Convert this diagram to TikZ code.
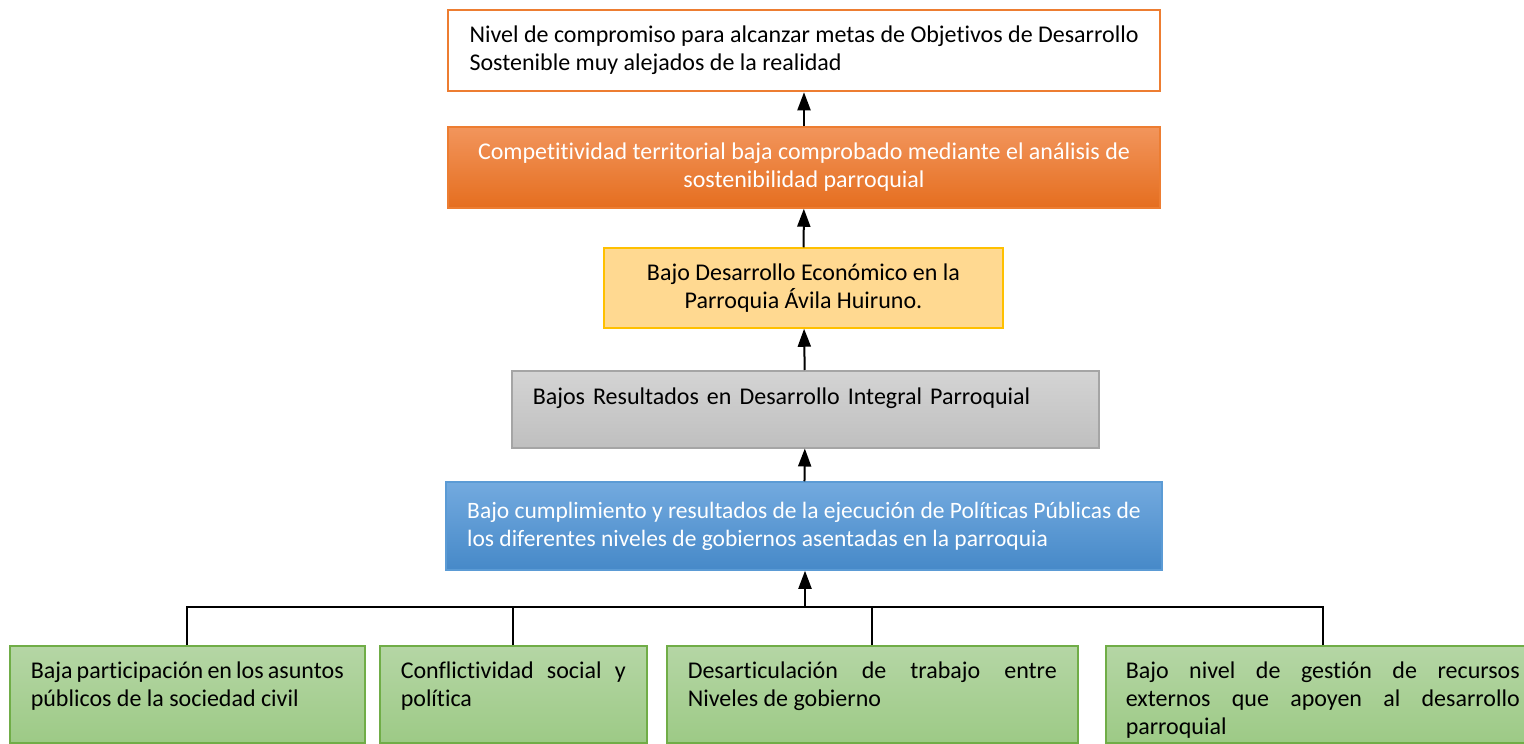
\documentclass[tikz,border=0pt]{standalone}
\usepackage{fontspec}
\setmainfont{Carlito}[Ligatures=NoCommon]
\usetikzlibrary{arrows.meta}
\definecolor{ap-orange}{HTML}{ED7D31}
\definecolor{ap-orangetop}{HTML}{F2955C}
\definecolor{ap-orangebot}{HTML}{E56E1F}
\definecolor{ap-yellow}{HTML}{FFD991}
\definecolor{ap-yellowline}{HTML}{FFC000}
\definecolor{ap-graytop}{HTML}{D4D4D4}
\definecolor{ap-graybot}{HTML}{BFBFBF}
\definecolor{ap-grayline}{HTML}{A5A5A5}
\definecolor{ap-bluetop}{HTML}{73AADF}
\definecolor{ap-bluebot}{HTML}{4689C8}
\definecolor{ap-blueline}{HTML}{5B9BD5}
\definecolor{ap-greentop}{HTML}{B5D6A5}
\definecolor{ap-greenbot}{HTML}{9DCA86}
\definecolor{ap-greenline}{HTML}{70AD47}

\begin{document}
\begin{tikzpicture}[x=1pt, y=-1pt, font=\fontsize{24}{28}\selectfont,
    box/.style={draw, line width=1.5pt, inner xsep=21pt, inner ysep=10pt},
    link/.style={line width=2pt, -{Triangle[width=13pt,length=18pt]}},
    cause/.style={box, draw=ap-greenline, top color=ap-greentop, bottom color=ap-greenbot,
        anchor=north west, align=justify, text height=23pt, text depth=54pt}]
    \useasboundingbox (0,0) rectangle (1524,744);
    \node[box, draw=ap-orange, line width=2.5pt, fill=white, minimum width=712pt, minimum height=81pt, align=left] (meta) at (804,50.5)
        {Nivel de compromiso para alcanzar metas de Objetivos de Desarrollo\\Sostenible muy alejados de la realidad};
    \node[box, draw=ap-orange, top color=ap-orangetop, bottom color=ap-orangebot, text=white, minimum width=712pt, minimum height=81pt, align=center] (compet) at (804,167.5)
        {Competitividad territorial baja comprobado mediante el análisis de\\sostenibilidad parroquial};
    \node[box, draw=ap-yellowline, fill=ap-yellow, minimum width=399pt, minimum height=80pt, align=center] (econ) at (803.5,288)
        {Bajo Desarrollo Económico en la\\Parroquia Ávila Huiruno.};
    \node[box, draw=ap-grayline, top color=ap-graytop, bottom color=ap-graybot, anchor=north west, text width=545pt, align=left, text height=24pt, text depth=33pt] (integral) at (511,370)
        {Bajos Resultados en Desarrollo Integral Parroquial};
    \node[box, draw=ap-blueline, top color=ap-bluetop, bottom color=ap-bluebot, text=white, font=\fontsize{23.5}{28}\selectfont, minimum width=716pt, minimum height=88pt, align=left] (polit) at (804,526)
        {Bajo cumplimiento y resultados de la ejecución de Políticas Públicas de\\los diferentes niveles de gobiernos asentadas en la parroquia};

    \node[cause, text width=313pt] (c1) at (9,645) {Baja participación en los asuntos\linebreak públicos de la sociedad civil};
    \node[cause, text width=225pt] (c2) at (379,645) {Conflictividad social y\linebreak política};
    \node[cause, text width=369pt] (c3) at (666,645) {Desarticulación de trabajo entre\linebreak Niveles de gobierno};
    \node[cause, text width=394pt, inner xsep=20pt] (c4) at (1105,645) {Bajo nivel de gestión de recursos\linebreak externos que apoyen al desarrollo\linebreak parroquial};

    \coordinate (bus) at (805,607);
    \draw[line width=2pt] (c1.north) |- (bus);
    \draw[line width=2pt] (c2.north) |- (bus);
    \draw[line width=2pt] (c3.north) |- (bus);
    \draw[line width=2pt] (c4.north) |- (bus);
    \draw[link] (bus) -- (bus |- polit.south);
    \draw[link] (polit) -- (integral);
    \draw[link] (integral) -- (econ);
    \draw[link] (econ) -- (compet);
    \draw[link] (compet) -- (meta);
\end{tikzpicture}
\end{document}
